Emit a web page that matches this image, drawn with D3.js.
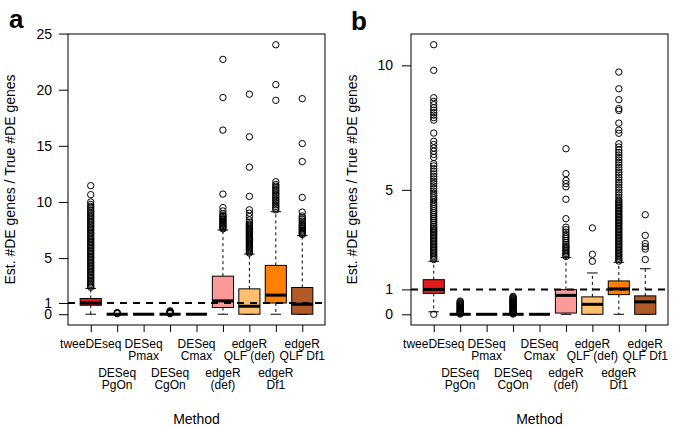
<!DOCTYPE html>
<html><head><meta charset="utf-8">
<script src="https://cdn.jsdelivr.net/npm/d3@7"></script>
<style>
html,body{margin:0;padding:0;background:#fff;}
text{font-family:"Liberation Sans",Arial,Helvetica,sans-serif;}
</style></head>
<body><svg id="chart" width="685" height="428"></svg>
<script>
// ---------- DATA ----------
const methods = ["tweeDEseq","DESeq PgOn","DESeq Pmax","DESeq CgOn","DESeq Cmax","edgeR (def)","edgeR QLF (def)","edgeR Df1","edgeR QLF Df1"];
const methodLines = [["tweeDEseq"],["DESeq","PgOn"],["DESeq","Pmax"],["DESeq","CgOn"],["DESeq","Cmax"],["edgeR","(def)"],["edgeR","QLF (def)"],["edgeR","Df1"],["edgeR","QLF Df1"]];
const boxColors = ["#E31A1C","#1F78B4","#A6CEE3","#33A02C","#B2DF8A","#FB9A99","#FDBF6F","#FF7F00","#B15928"];
const xTitle = "Method";
const yTitle = "Est. #DE genes / True #DE genes";
const refLine = 1;

// Panel a
const aTicks = [0,1,5,10,15,20,25];
const aLower  = [0, 0, 0, 0, 0, 0, 0, 0, 0];
const aQ1     = [0.8, 0, 0, 0, 0, 0.6, 0, 1.0, 0];
const aMedian = [1.0, 0, 0, 0, 0, 1.19, 0.71, 1.7, 0.89];
const aQ3     = [1.4, 0, 0, 0, 0, 3.39, 2.26, 4.35, 2.38];
const aUpper  = [2.3, 0, 0, 0, 0, 7.5, 5.36, 9.13, 7.0];
const aOutliers = [
  [2.4,2.52,2.65,2.78,2.9,3.03,3.17,3.3,3.42,3.56,3.7,3.82,3.95,4.1,4.22,4.36,4.5,4.63,4.76,4.9,5.03,5.16,5.3,5.44,5.57,5.7,5.84,5.97,6.1,6.24,6.37,6.5,6.64,6.78,6.9,7.05,7.18,7.3,7.45,7.58,7.7,7.85,7.98,8.12,8.26,8.4,8.55,8.7,8.82,8.97,9.12,9.28,9.45,9.6,9.78,10.0,10.65,11.45],
  [0.05,0.1,0.15],
  [],
  [0.05,0.1,0.15,0.2,0.25,0.3],
  [],
  [7.6,7.7,7.8,7.9,8.0,8.1,8.2,8.3,8.4,8.5,8.6,8.7,8.8,8.95,9.2,9.5,10.7,16.4,19.3,22.7],
  [5.45,5.55,5.65,5.75,5.85,5.95,6.05,6.15,6.25,6.35,6.45,6.55,6.65,6.75,6.85,6.95,7.05,7.15,7.25,7.35,7.45,7.55,7.65,7.75,7.85,7.95,8.05,8.2,8.4,8.7,9.0,9.3,10.5,13.1,15.8,19.6],
  [9.3,9.45,9.6,9.75,9.9,10.05,10.2,10.35,10.5,10.65,10.8,10.95,11.1,11.25,11.4,11.55,11.8,19.05,20.45,24.0],
  [7.1,7.2,7.3,7.4,7.5,7.6,7.7,7.8,7.9,8.0,8.15,8.3,8.45,8.6,8.75,9.1,10.4,13.6,15.2,19.2]
];

// Panel b
const bTicks = [0,1,5,10];
const bLower  = [0.1, 0, 0, 0, 0, 0, 0, 0, 0];
const bQ1     = [0.84, 0, 0, 0, 0, 0.05, 0, 0.79, 0];
const bMedian = [1.0, 0, 0, 0, 0, 0.76, 0.4, 1.02, 0.5];
const bQ3     = [1.39, 0, 0, 0, 0, 0.99, 0.7, 1.34, 0.74];
const bUpper  = [2.13, 0, 0, 0, 0, 2.28, 1.66, 2.09, 1.83];
const bOutliers = [
  [0,2.2,2.26,2.32,2.38,2.44,2.5,2.56,2.62,2.68,2.74,2.8,2.86,2.92,2.98,3.04,3.1,3.16,3.22,3.28,3.34,3.4,3.46,3.52,3.6,3.68,3.76,3.84,3.92,4.0,4.08,4.16,4.25,4.33,4.42,4.5,4.6,4.68,4.77,4.86,4.95,5.05,5.15,5.25,5.34,5.44,5.54,5.64,5.75,5.85,5.96,6.05,6.3,6.42,6.55,6.68,6.82,6.95,7.28,7.8,7.9,8.0,8.1,8.2,8.3,8.42,8.55,8.7,9.8,10.83],
  [0.01,0.04,0.07,0.1,0.13,0.16,0.19,0.22,0.25,0.28,0.31,0.34,0.37,0.4,0.43,0.46,0.5,0.53],
  [],
  [0.01,0.04,0.07,0.1,0.13,0.16,0.19,0.22,0.25,0.28,0.31,0.34,0.37,0.4,0.43,0.46,0.49,0.52,0.55,0.58,0.61,0.64,0.68,0.72],
  [],
  [2.32,2.38,2.44,2.5,2.56,2.62,2.68,2.74,2.8,2.88,2.96,3.04,3.12,3.2,3.3,3.4,3.5,3.84,4.62,5.12,5.25,5.38,5.65,6.65],
  [2.13,2.41,3.47],
  [2.14,2.2,2.26,2.32,2.38,2.44,2.5,2.56,2.62,2.68,2.74,2.8,2.86,2.92,2.98,3.04,3.1,3.16,3.22,3.28,3.34,3.4,3.46,3.52,3.58,3.64,3.7,3.76,3.82,3.88,3.94,4.0,4.06,4.12,4.18,4.24,4.3,4.36,4.42,4.48,4.54,4.6,4.7,4.8,4.9,5.0,5.1,5.2,5.3,5.4,5.5,5.6,5.7,5.8,5.9,6.0,6.1,6.2,6.3,6.4,6.5,6.6,6.72,6.85,7.27,7.4,7.68,8.19,8.26,8.62,9.06,9.73],
  [2.2,2.62,2.72,2.84,3.17,4.0]
];

// ---------- DRAW ----------
const svg = d3.select("#chart");
svg.append("rect").attr("width",685).attr("height",428).attr("fill","#fff");

function drawPanel(p) {
  const g = svg.append("g");
  const x = d3.scaleLinear().domain([0.14, 9.86]).range([p.left, p.right]);
  const y = d3.scaleLinear().domain(p.yDomain).range([p.bottom, p.top]);
  const bw = x(0.8) - x(0);
  const cw = x(0.4) - x(0);
  const idx = d3.range(methods.length);

  // whiskers
  idx.forEach(i => {
    const cx = x(i + 1);
    if (p.upper[i] > p.q3[i]) {
      g.append("line").attr("x1",cx).attr("x2",cx).attr("y1",y(p.q3[i])).attr("y2",y(p.upper[i]))
        .attr("stroke","#000").attr("stroke-dasharray","3,3");
    }
    if (p.lower[i] < p.q1[i]) {
      g.append("line").attr("x1",cx).attr("x2",cx).attr("y1",y(p.q1[i])).attr("y2",y(p.lower[i]))
        .attr("stroke","#000").attr("stroke-dasharray","3,3");
    }
    [p.upper[i], p.lower[i]].forEach(v => {
      g.append("line").attr("x1",cx - cw/2).attr("x2",cx + cw/2).attr("y1",y(v)).attr("y2",y(v))
        .attr("stroke","#000").attr("stroke-width",1);
    });
  });
  // boxes
  g.selectAll("rect.box").data(idx).join("rect").attr("class","box")
    .attr("x", i => x(i + 1) - bw/2).attr("width", bw)
    .attr("y", i => y(p.q3[i])).attr("height", i => Math.max(0, y(p.q1[i]) - y(p.q3[i])))
    .attr("fill", i => boxColors[i]).attr("stroke","#000").attr("stroke-width",1);
  // medians
  g.selectAll("line.med").data(idx).join("line").attr("class","med")
    .attr("x1", i => x(i + 1) - bw/2).attr("x2", i => x(i + 1) + bw/2)
    .attr("y1", i => y(p.median[i])).attr("y2", i => y(p.median[i]))
    .attr("stroke","#000").attr("stroke-width",3);
  // outliers
  const pts = [];
  idx.forEach(i => p.outliers[i].forEach(v => pts.push({i, v})));
  g.selectAll("circle.out").data(pts).join("circle").attr("class","out")
    .attr("cx", d => x(d.i + 1)).attr("cy", d => y(d.v)).attr("r", 3.2)
    .attr("fill","none").attr("stroke","#000").attr("stroke-width",1);
  // reference line
  g.append("line").attr("x1",p.left).attr("x2",p.right).attr("y1",y(refLine)).attr("y2",y(refLine))
    .attr("stroke","#000").attr("stroke-width",2).attr("stroke-dasharray","7,6");
  // frame
  g.append("rect").attr("x",p.left).attr("y",p.top).attr("width",p.right-p.left).attr("height",p.bottom-p.top)
    .attr("fill","none").attr("stroke","#000").attr("stroke-width",1);

  // y axis
  const ya = g.append("g").attr("transform",`translate(${p.left},0)`)
    .call(d3.axisLeft(y).tickValues(p.ticks).tickSize(9).tickPadding(p.tickPad).tickFormat(d3.format("d")));
  ya.select(".domain").remove();
  ya.selectAll("text").attr("font-size",14).attr("fill","#000").style("font-family","'Liberation Sans',Arial,sans-serif");
  ya.selectAll("line").attr("stroke","#000");

  // x axis
  const xa = g.append("g").attr("transform",`translate(0,${p.bottom})`)
    .call(d3.axisBottom(x).tickValues(idx.map(i => i + 1)).tickSize(7).tickFormat(""));
  xa.select(".domain").remove();
  xa.selectAll("line").attr("stroke","#000");

  // x tick labels (staggered)
  idx.forEach(i => {
    const row = i % 2;
    const base = row === 0 ? 347.5 : 376.5;
    const t = g.append("text").attr("text-anchor","middle").attr("font-size",12).attr("fill","#000");
    methodLines[i].forEach((ln, k) => {
      t.append("tspan").attr("x", x(i + 1)).attr("y", base + k * 12).text(ln);
    });
  });

  // axis titles
  g.append("text").attr("x",(p.left+p.right)/2).attr("y",424).attr("text-anchor","middle")
    .attr("font-size",14).attr("fill","#000").text(xTitle);
  g.append("text").attr("transform",`translate(${p.ylabX},${(p.top+p.bottom)/2}) rotate(-90)`)
    .attr("text-anchor","middle").attr("font-size",14).attr("fill","#000").text(yTitle);
  // panel letter
  g.append("text").attr("x",p.letterX).attr("y",p.letterY).attr("font-size",26).attr("font-weight","bold")
    .attr("fill","#000").text(p.letter);
}

drawPanel({left:68, right:325, top:34, bottom:325, yDomain:[-0.96,24.96], ticks:aTicks, tickPad:7,
  lower:aLower, q1:aQ1, median:aMedian, q3:aQ3, upper:aUpper, outliers:aOutliers,
  ylabX:15, letter:"a", letterX:9, letterY:28});
drawPanel({left:411, right:668, top:34, bottom:325, yDomain:[-0.43,11.26], ticks:bTicks, tickPad:9,
  lower:bLower, q1:bQ1, median:bMedian, q3:bQ3, upper:bUpper, outliers:bOutliers,
  ylabX:357, letter:"b", letterX:351, letterY:30});
</script>
</body></html>
